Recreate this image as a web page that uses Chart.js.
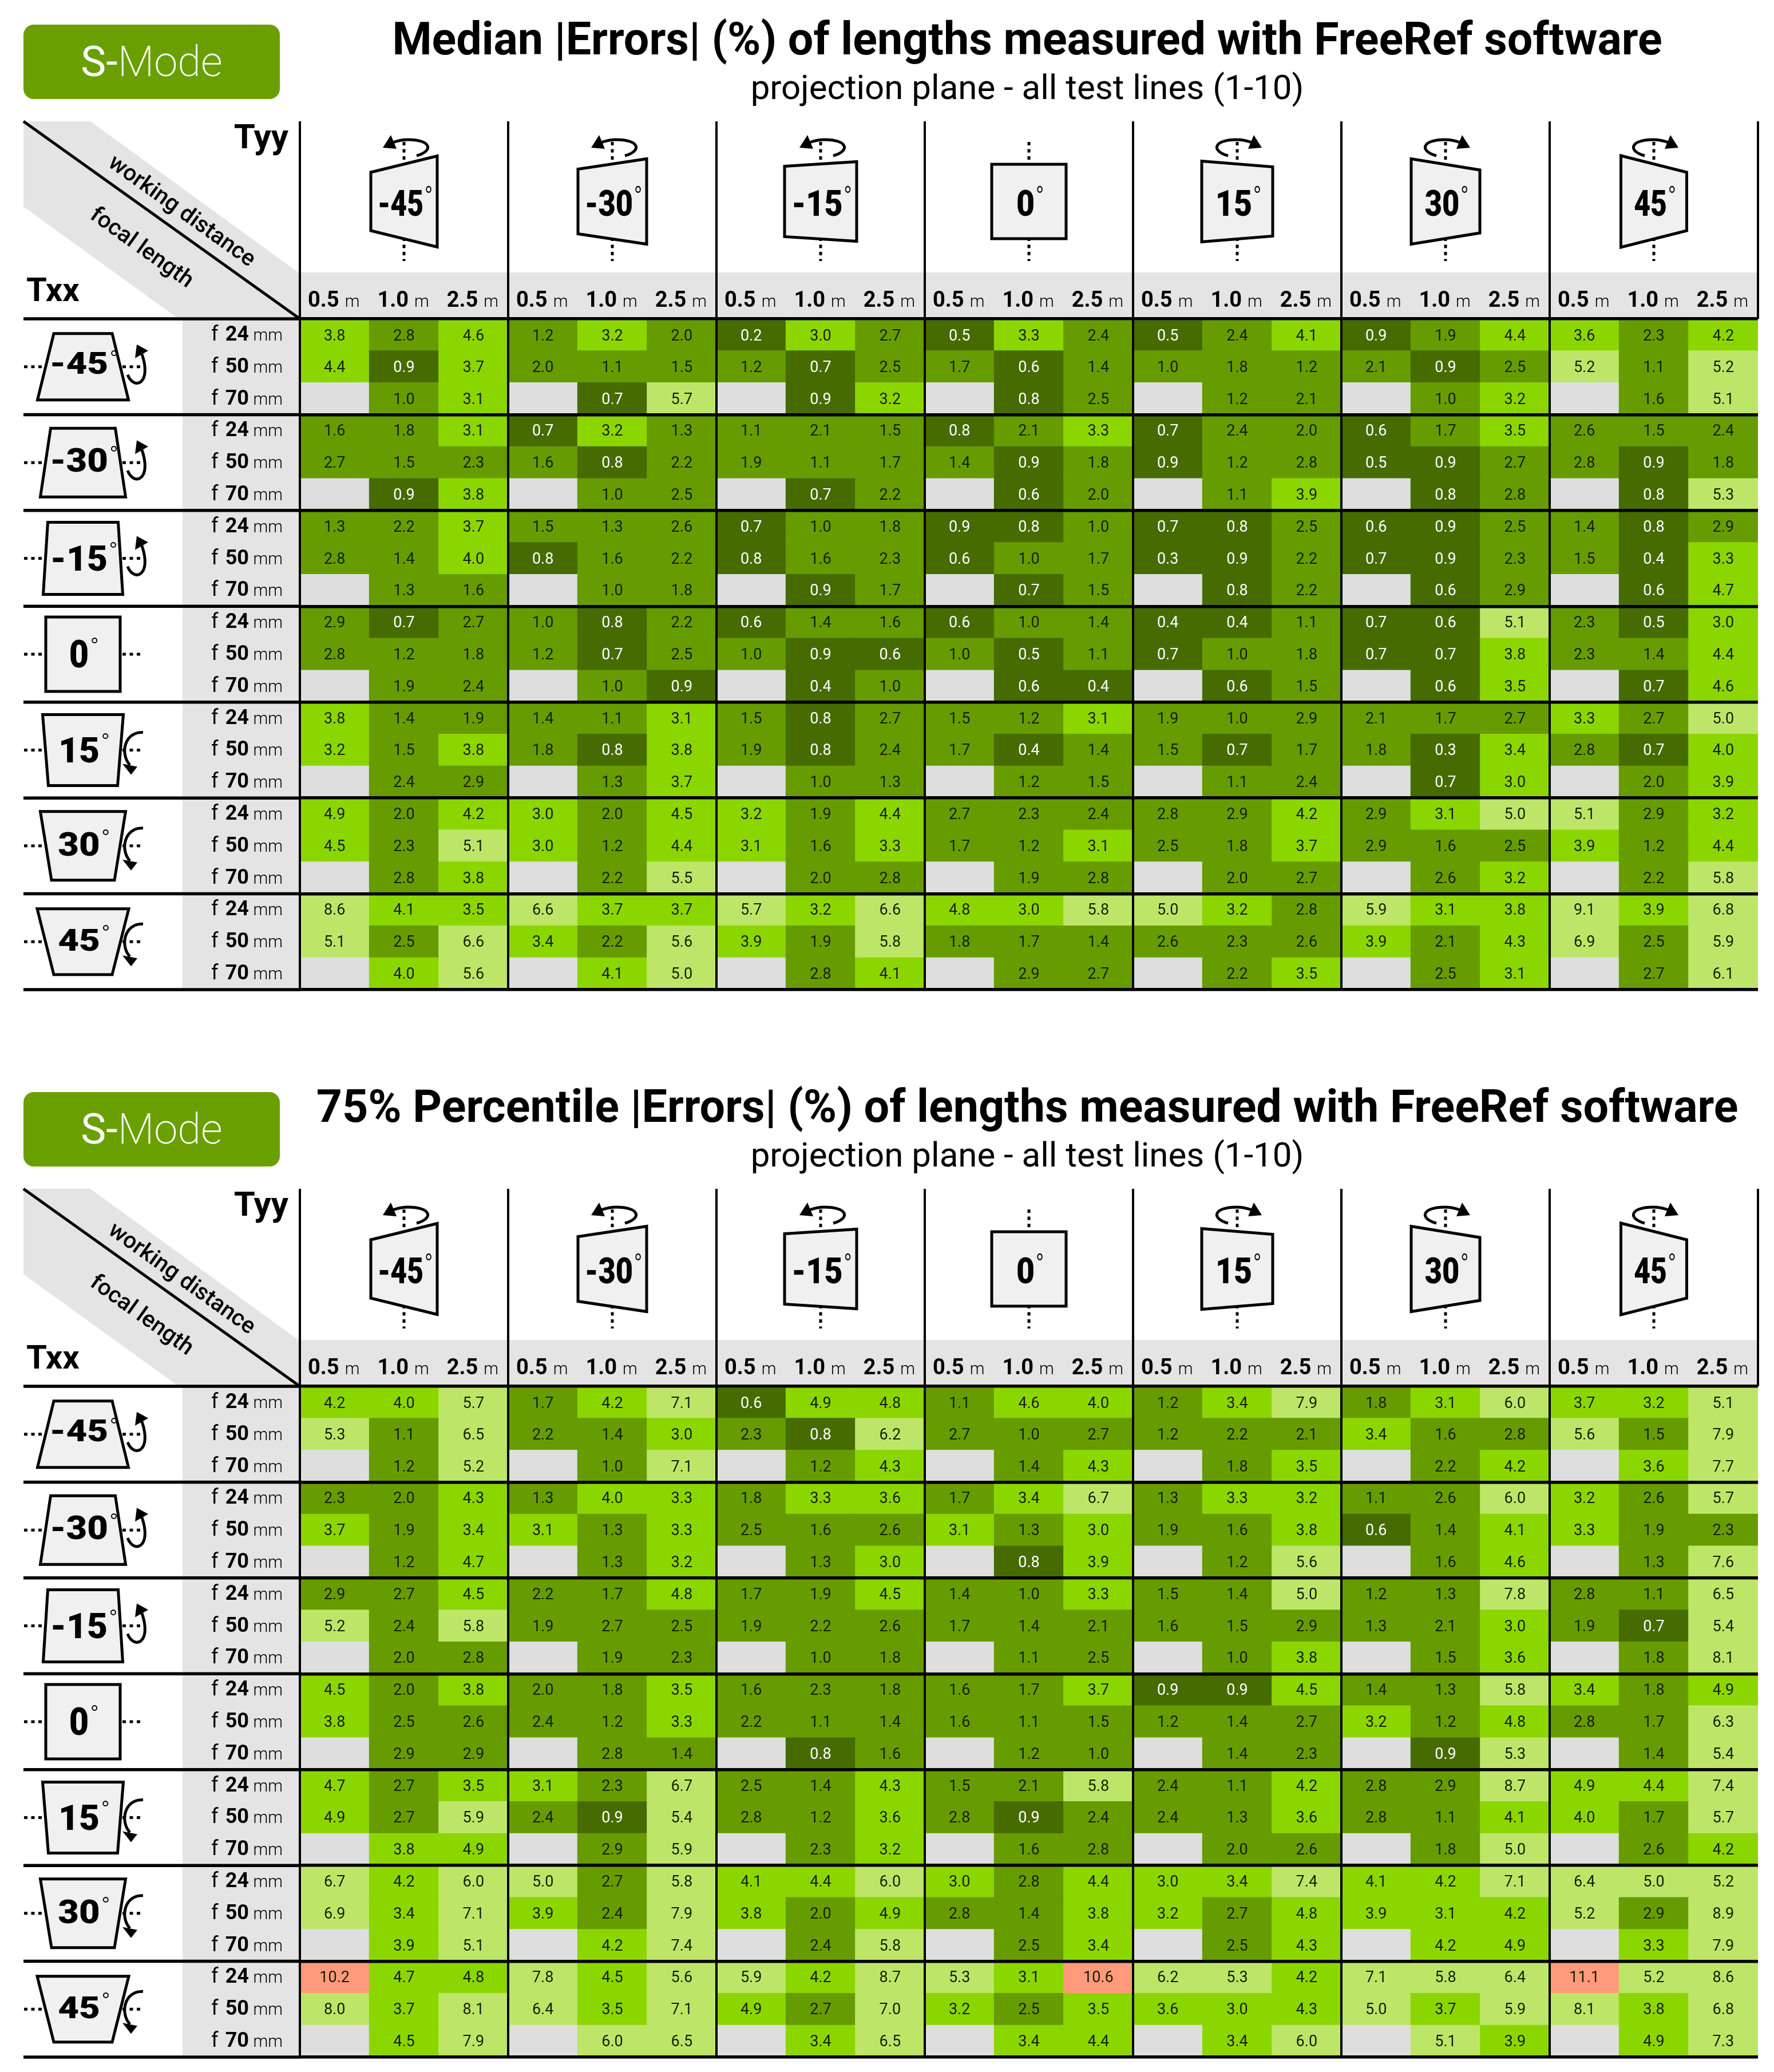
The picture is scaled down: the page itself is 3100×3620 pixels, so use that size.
<!DOCTYPE html>
<html>
<head>
<meta charset="utf-8">
<title>FreeRef S-Mode errors</title>
<script src="https://cdn.jsdelivr.net/npm/chart.js@4/dist/chart.umd.min.js"></script>
<style>
    html, body { margin: 0; padding: 0; background: #fff; overflow: hidden; }
    body { position: relative; width: 3100px; height: 3620px; font-family: Roboto, sans-serif; color: #000; }
    canvas { position: absolute; left: 0; }
    #chart1 { top: 0; }
    #chart2 { top: 1865px; }
    .badge { position: absolute; left: 41px; width: 448px; height: 130px; background: #69a000; border-radius: 18px;
             color: #fff; font-size: 74px; line-height: 130px; text-align: center; font-weight: 200; }
    .badge b { font-weight: 400; }
    .title { position: absolute; left: 500px; width: 2590px; text-align: center; font-weight: 700;
             font-size: 79px; line-height: 100px; white-space: nowrap; }
    .subtitle { position: absolute; left: 500px; width: 2590px; text-align: center; font-weight: 400;
                font-size: 60px; line-height: 70px; white-space: nowrap; }
</style>
</head>
<body>
<div class="badge" style="top:43px"><b>S-</b>Mode</div>
<div class="title" style="top:18px">Median |Errors| (%) of lengths measured with FreeRef software</div>
<div class="subtitle" style="top:118px">projection plane - all test lines (1-10)</div>
<canvas id="chart1" width="3100" height="1800"></canvas>

<div class="badge" style="top:1908px"><b>S-</b>Mode</div>
<div class="title" style="top:1883px">75% Percentile |Errors| (%) of lengths measured with FreeRef software</div>
<div class="subtitle" style="top:1983px">projection plane - all test lines (1-10)</div>
<canvas id="chart2" width="3100" height="1755"></canvas>

<script>
const tyyAngles = [-45, -30, -15, 0, 15, 30, 45];
const txxAngles = [-45, -30, -15, 0, 15, 30, 45];
const distances = ['0.5', '1.0', '2.5'];
const focalLengths = ['24', '50', '70'];

// one line per Txx angle and focal length, null = not measured
const medianErrors = [
    [3.8, 2.8, 4.6, 1.2, 3.2, 2.0, 0.2, 3.0, 2.7, 0.5, 3.3, 2.4, 0.5, 2.4, 4.1, 0.9, 1.9, 4.4, 3.6, 2.3, 4.2],
    [4.4, 0.9, 3.7, 2.0, 1.1, 1.5, 1.2, 0.7, 2.5, 1.7, 0.6, 1.4, 1.0, 1.8, 1.2, 2.1, 0.9, 2.5, 5.2, 1.1, 5.2],
    [null, 1.0, 3.1, null, 0.7, 5.7, null, 0.9, 3.2, null, 0.8, 2.5, null, 1.2, 2.1, null, 1.0, 3.2, null, 1.6, 5.1],
    [1.6, 1.8, 3.1, 0.7, 3.2, 1.3, 1.1, 2.1, 1.5, 0.8, 2.1, 3.3, 0.7, 2.4, 2.0, 0.6, 1.7, 3.5, 2.6, 1.5, 2.4],
    [2.7, 1.5, 2.3, 1.6, 0.8, 2.2, 1.9, 1.1, 1.7, 1.4, 0.9, 1.8, 0.9, 1.2, 2.8, 0.5, 0.9, 2.7, 2.8, 0.9, 1.8],
    [null, 0.9, 3.8, null, 1.0, 2.5, null, 0.7, 2.2, null, 0.6, 2.0, null, 1.1, 3.9, null, 0.8, 2.8, null, 0.8, 5.3],
    [1.3, 2.2, 3.7, 1.5, 1.3, 2.6, 0.7, 1.0, 1.8, 0.9, 0.8, 1.0, 0.7, 0.8, 2.5, 0.6, 0.9, 2.5, 1.4, 0.8, 2.9],
    [2.8, 1.4, 4.0, 0.8, 1.6, 2.2, 0.8, 1.6, 2.3, 0.6, 1.0, 1.7, 0.3, 0.9, 2.2, 0.7, 0.9, 2.3, 1.5, 0.4, 3.3],
    [null, 1.3, 1.6, null, 1.0, 1.8, null, 0.9, 1.7, null, 0.7, 1.5, null, 0.8, 2.2, null, 0.6, 2.9, null, 0.6, 4.7],
    [2.9, 0.7, 2.7, 1.0, 0.8, 2.2, 0.6, 1.4, 1.6, 0.6, 1.0, 1.4, 0.4, 0.4, 1.1, 0.7, 0.6, 5.1, 2.3, 0.5, 3.0],
    [2.8, 1.2, 1.8, 1.2, 0.7, 2.5, 1.0, 0.9, 0.6, 1.0, 0.5, 1.1, 0.7, 1.0, 1.8, 0.7, 0.7, 3.8, 2.3, 1.4, 4.4],
    [null, 1.9, 2.4, null, 1.0, 0.9, null, 0.4, 1.0, null, 0.6, 0.4, null, 0.6, 1.5, null, 0.6, 3.5, null, 0.7, 4.6],
    [3.8, 1.4, 1.9, 1.4, 1.1, 3.1, 1.5, 0.8, 2.7, 1.5, 1.2, 3.1, 1.9, 1.0, 2.9, 2.1, 1.7, 2.7, 3.3, 2.7, 5.0],
    [3.2, 1.5, 3.8, 1.8, 0.8, 3.8, 1.9, 0.8, 2.4, 1.7, 0.4, 1.4, 1.5, 0.7, 1.7, 1.8, 0.3, 3.4, 2.8, 0.7, 4.0],
    [null, 2.4, 2.9, null, 1.3, 3.7, null, 1.0, 1.3, null, 1.2, 1.5, null, 1.1, 2.4, null, 0.7, 3.0, null, 2.0, 3.9],
    [4.9, 2.0, 4.2, 3.0, 2.0, 4.5, 3.2, 1.9, 4.4, 2.7, 2.3, 2.4, 2.8, 2.9, 4.2, 2.9, 3.1, 5.0, 5.1, 2.9, 3.2],
    [4.5, 2.3, 5.1, 3.0, 1.2, 4.4, 3.1, 1.6, 3.3, 1.7, 1.2, 3.1, 2.5, 1.8, 3.7, 2.9, 1.6, 2.5, 3.9, 1.2, 4.4],
    [null, 2.8, 3.8, null, 2.2, 5.5, null, 2.0, 2.8, null, 1.9, 2.8, null, 2.0, 2.7, null, 2.6, 3.2, null, 2.2, 5.8],
    [8.6, 4.1, 3.5, 6.6, 3.7, 3.7, 5.7, 3.2, 6.6, 4.8, 3.0, 5.8, 5.0, 3.2, 2.8, 5.9, 3.1, 3.8, 9.1, 3.9, 6.8],
    [5.1, 2.5, 6.6, 3.4, 2.2, 5.6, 3.9, 1.9, 5.8, 1.8, 1.7, 1.4, 2.6, 2.3, 2.6, 3.9, 2.1, 4.3, 6.9, 2.5, 5.9],
    [null, 4.0, 5.6, null, 4.1, 5.0, null, 2.8, 4.1, null, 2.9, 2.7, null, 2.2, 3.5, null, 2.5, 3.1, null, 2.7, 6.1]
];

const percentileErrors = [
    [4.2, 4.0, 5.7, 1.7, 4.2, 7.1, 0.6, 4.9, 4.8, 1.1, 4.6, 4.0, 1.2, 3.4, 7.9, 1.8, 3.1, 6.0, 3.7, 3.2, 5.1],
    [5.3, 1.1, 6.5, 2.2, 1.4, 3.0, 2.3, 0.8, 6.2, 2.7, 1.0, 2.7, 1.2, 2.2, 2.1, 3.4, 1.6, 2.8, 5.6, 1.5, 7.9],
    [null, 1.2, 5.2, null, 1.0, 7.1, null, 1.2, 4.3, null, 1.4, 4.3, null, 1.8, 3.5, null, 2.2, 4.2, null, 3.6, 7.7],
    [2.3, 2.0, 4.3, 1.3, 4.0, 3.3, 1.8, 3.3, 3.6, 1.7, 3.4, 6.7, 1.3, 3.3, 3.2, 1.1, 2.6, 6.0, 3.2, 2.6, 5.7],
    [3.7, 1.9, 3.4, 3.1, 1.3, 3.3, 2.5, 1.6, 2.6, 3.1, 1.3, 3.0, 1.9, 1.6, 3.8, 0.6, 1.4, 4.1, 3.3, 1.9, 2.3],
    [null, 1.2, 4.7, null, 1.3, 3.2, null, 1.3, 3.0, null, 0.8, 3.9, null, 1.2, 5.6, null, 1.6, 4.6, null, 1.3, 7.6],
    [2.9, 2.7, 4.5, 2.2, 1.7, 4.8, 1.7, 1.9, 4.5, 1.4, 1.0, 3.3, 1.5, 1.4, 5.0, 1.2, 1.3, 7.8, 2.8, 1.1, 6.5],
    [5.2, 2.4, 5.8, 1.9, 2.7, 2.5, 1.9, 2.2, 2.6, 1.7, 1.4, 2.1, 1.6, 1.5, 2.9, 1.3, 2.1, 3.0, 1.9, 0.7, 5.4],
    [null, 2.0, 2.8, null, 1.9, 2.3, null, 1.0, 1.8, null, 1.1, 2.5, null, 1.0, 3.8, null, 1.5, 3.6, null, 1.8, 8.1],
    [4.5, 2.0, 3.8, 2.0, 1.8, 3.5, 1.6, 2.3, 1.8, 1.6, 1.7, 3.7, 0.9, 0.9, 4.5, 1.4, 1.3, 5.8, 3.4, 1.8, 4.9],
    [3.8, 2.5, 2.6, 2.4, 1.2, 3.3, 2.2, 1.1, 1.4, 1.6, 1.1, 1.5, 1.2, 1.4, 2.7, 3.2, 1.2, 4.8, 2.8, 1.7, 6.3],
    [null, 2.9, 2.9, null, 2.8, 1.4, null, 0.8, 1.6, null, 1.2, 1.0, null, 1.4, 2.3, null, 0.9, 5.3, null, 1.4, 5.4],
    [4.7, 2.7, 3.5, 3.1, 2.3, 6.7, 2.5, 1.4, 4.3, 1.5, 2.1, 5.8, 2.4, 1.1, 4.2, 2.8, 2.9, 8.7, 4.9, 4.4, 7.4],
    [4.9, 2.7, 5.9, 2.4, 0.9, 5.4, 2.8, 1.2, 3.6, 2.8, 0.9, 2.4, 2.4, 1.3, 3.6, 2.8, 1.1, 4.1, 4.0, 1.7, 5.7],
    [null, 3.8, 4.9, null, 2.9, 5.9, null, 2.3, 3.2, null, 1.6, 2.8, null, 2.0, 2.6, null, 1.8, 5.0, null, 2.6, 4.2],
    [6.7, 4.2, 6.0, 5.0, 2.7, 5.8, 4.1, 4.4, 6.0, 3.0, 2.8, 4.4, 3.0, 3.4, 7.4, 4.1, 4.2, 7.1, 6.4, 5.0, 5.2],
    [6.9, 3.4, 7.1, 3.9, 2.4, 7.9, 3.8, 2.0, 4.9, 2.8, 1.4, 3.8, 3.2, 2.7, 4.8, 3.9, 3.1, 4.2, 5.2, 2.9, 8.9],
    [null, 3.9, 5.1, null, 4.2, 7.4, null, 2.4, 5.8, null, 2.5, 3.4, null, 2.5, 4.3, null, 4.2, 4.9, null, 3.3, 7.9],
    [10.2, 4.7, 4.8, 7.8, 4.5, 5.6, 5.9, 4.2, 8.7, 5.3, 3.1, 10.6, 6.2, 5.3, 4.2, 7.1, 5.8, 6.4, 11.1, 5.2, 8.6],
    [8.0, 3.7, 8.1, 6.4, 3.5, 7.1, 4.9, 2.7, 7.0, 3.2, 2.5, 3.5, 3.6, 3.0, 4.3, 5.0, 3.7, 5.9, 8.1, 3.8, 6.8],
    [null, 4.5, 7.9, null, 6.0, 6.5, null, 3.4, 6.5, null, 3.4, 4.4, null, 3.4, 6.0, null, 5.1, 3.9, null, 4.9, 7.3]
];

const FONT = 'Roboto, sans-serif';
const GREY = '#e4e4e4';
const LEFT = 41, TOP = 212, BAND_TOP = 476, AREA_LEFT = 524, AREA_TOP = 557, AREA_BOTTOM = 1729, AREA_RIGHT = 3072;

// icon outline per tilt, index 0 = -45 ... 6 = 45: [near edge, far edge, depth]
const iconShapes = [[102, 159, 116], [113, 149, 120], [123, 139, 126], [130, 130, 130], [141, 121, 124], [149, 110, 120], [160, 102, 115]];
const tyyTextScale = { 45: 0.79, 30: 0.83, 15: 0.88, 0: 0.88 };
const txxTextSize = { 45: 53, 30: 58, 15: 61, 0: 66 };
const txxTextScale = { 45: 1.2, 30: 1.09, 15: 1.02, 0: 0.9 };
const txxTextShift = { '-45': -7, '-30': -5, '-15': 0, 0: 0, 15: 0, 30: -3, 45: -3 };

function cellColor(v) {
    if (v === null || v === undefined) return '#dedede';
    if (v < 1) return '#466b00';
    if (v < 3) return '#669c00';
    if (v < 5) return '#8cd600';
    if (v < 10) return '#bde669';
    return '#ff9b7a';
}

function stretchedText(ctx, text, x, y, font, sx, align) {
    ctx.save();
    ctx.translate(x, y);
    ctx.scale(sx, 1);
    ctx.font = font;
    ctx.textAlign = align || 'center';
    ctx.textBaseline = 'alphabetic';
    ctx.fillText(text, 0, 0);
    ctx.restore();
}

function polygon(ctx, pts) {
    ctx.beginPath();
    pts.forEach((p, i) => i ? ctx.lineTo(p[0], p[1]) : ctx.moveTo(p[0], p[1]));
    ctx.closePath();
}

function dottedLine(ctx, x0, y0, x1, y1) {
    ctx.save();
    ctx.strokeStyle = '#000';
    ctx.lineWidth = 5;
    ctx.setLineDash([6, 6.5]);
    ctx.beginPath();
    ctx.moveTo(x0, y0);
    ctx.lineTo(x1, y1);
    ctx.stroke();
    ctx.restore();
}

function drawTrapezoid(ctx, pts) {
    polygon(ctx, pts);
    ctx.fillStyle = '#f0f0f0';
    ctx.fill();
    ctx.strokeStyle = '#000';
    ctx.lineWidth = 5;
    ctx.lineJoin = 'miter';
    ctx.stroke();
}

// rotation arrow above a Tyy icon, mirrored for the positive angles
function tyyArrow(ctx, cx, angle) {
    if (angle === 0) return;
    const s = angle < 0 ? 1 : -1;
    const off = angle < 0 ? 0 : 6;
    const X = d => cx + off + s * d;
    ctx.strokeStyle = '#000';
    ctx.lineWidth = 5;
    ctx.beginPath();
    ctx.moveTo(X(22), 272);
    ctx.bezierCurveTo(X(52), 264, X(48), 244, X(7), 244);
    ctx.quadraticCurveTo(X(-6), 244, X(-20), 249);
    ctx.stroke();
    ctx.fillStyle = '#000';
    polygon(ctx, [[X(-37), 258], [X(-23), 236], [X(-13), 260]]);
    ctx.fill();
}

// rotation arrow beside a Txx icon
function txxArrow(ctx, cy, angle) {
    if (angle === 0) return;
    ctx.strokeStyle = '#000';
    ctx.lineWidth = 5;
    ctx.fillStyle = '#000';
    ctx.beginPath();
    if (angle < 0) {
        ctx.moveTo(223, cy + 14);
        ctx.bezierCurveTo(234, cy + 42, 266, cy + 30, 248, cy - 22);
        ctx.stroke();
        polygon(ctx, [[239, cy - 39], [259, cy - 28], [236, cy - 15]]);
    } else {
        ctx.moveTo(250, cy - 31);
        ctx.bezierCurveTo(216, cy - 32, 210, cy + 8, 227, cy + 26);
        ctx.stroke();
        polygon(ctx, [[214, cy + 24], [240, cy + 29], [229, cy + 43]]);
    }
    ctx.fill();
}

function drawTyyIcon(ctx, cx, angle, i) {
    const shape = iconShapes[i], w = shape[2], cy = 352;
    dottedLine(ctx, cx, 248, cx, 290);
    dottedLine(ctx, cx, 415, cx, 456);
    tyyArrow(ctx, cx, angle);
    drawTrapezoid(ctx, [
        [cx - w / 2, cy - shape[0] / 2], [cx + w / 2, cy - shape[1] / 2],
        [cx + w / 2, cy + shape[1] / 2], [cx - w / 2, cy + shape[0] / 2]
    ]);
    const mag = Math.abs(angle), sx = tyyTextScale[mag], font = '900 63px ' + FONT;
    ctx.fillStyle = '#000';
    stretchedText(ctx, String(angle), cx - 6, 377, font, sx);
    ctx.font = font;
    const right = cx - 6 + ctx.measureText(String(angle)).width * sx / 2;
    stretchedText(ctx, '°', right + 9, 361, '300 50px ' + FONT, 0.8);
}

function drawTxxIcon(ctx, cy, angle, i) {
    const shape = iconShapes[i], cx = 145, h = shape[2];
    dottedLine(ctx, 42, cy, 76, cy);
    dottedLine(ctx, 214, cy, 250, cy);
    txxArrow(ctx, cy, angle);
    drawTrapezoid(ctx, [
        [cx - shape[0] / 2, cy - h / 2], [cx + shape[0] / 2, cy - h / 2],
        [cx + shape[1] / 2, cy + h / 2], [cx - shape[1] / 2, cy + h / 2]
    ]);
    const mag = Math.abs(angle), size = txxTextSize[mag], sx = txxTextScale[mag];
    const font = '900 ' + size + 'px ' + FONT;
    ctx.fillStyle = '#000';
    stretchedText(ctx, String(angle), cx - 7, cy + size * 0.355 + txxTextShift[angle], font, sx);
    ctx.font = font;
    const right = cx - 7 + ctx.measureText(String(angle)).width * sx / 2;
    stretchedText(ctx, '°', right + 10, cy + 1, '300 42px ' + FONT, 1);
}

// grey strips behind the table, drawn before the cells
const backgroundPlugin = {
    id: 'tableBackground',
    beforeDraw(chart) {
        const ctx = chart.ctx, area = chart.chartArea;
        ctx.save();
        ctx.fillStyle = GREY;
        ctx.fillRect(319, area.top, area.left - 319, area.bottom - area.top);
        ctx.fillRect(area.left, BAND_TOP, area.right - area.left, area.top - BAND_TOP);
        polygon(ctx, [[LEFT, TOP], [158, TOP], [area.left, 478], [area.left, area.top], [312, area.top], [LEFT, 361]]);
        ctx.fill();
        ctx.restore();
    }
};

// axis labels, icons and the value in each cell
const labelPlugin = {
    id: 'tableLabels',
    afterDatasetsDraw(chart) {
        const ctx = chart.ctx;
        ctx.save();
        chart.getDatasetMeta(0).data.forEach((el, i) => {
            const v = chart.data.datasets[0].data[i].v;
            if (v === null) return;
            const p = el.getCenterPoint();
            ctx.fillStyle = v < 1 ? '#fff' : '#161f00';
            stretchedText(ctx, v.toFixed(1), p.x, p.y + 9, '27px ' + FONT, 1);
        });
        ctx.restore();
    },
    afterDraw(chart) {
        const ctx = chart.ctx, area = chart.chartArea;
        const xs = chart.scales.x, ys = chart.scales.y;
        const groupW = (area.right - area.left) / tyyAngles.length;
        ctx.save();

        // corner of the table
        ctx.strokeStyle = '#000';
        ctx.lineWidth = 5;
        ctx.beginPath();
        ctx.moveTo(LEFT, TOP);
        ctx.lineTo(area.left, area.top);
        ctx.stroke();
        ctx.fillStyle = '#000';
        stretchedText(ctx, 'Tyy', 504, 259, 'bold 60px ' + FONT, 1, 'right');
        stretchedText(ctx, 'Txx', 46, 526, 'bold 58px ' + FONT, 1, 'left');
        [['working distance', 317, 370], ['focal length', 247, 434]].forEach(t => {
            ctx.save();
            ctx.translate(t[1], t[2]);
            ctx.rotate(35.6 * Math.PI / 180);
            ctx.font = '500 40px ' + FONT;
            ctx.textAlign = 'center';
            ctx.textBaseline = 'middle';
            ctx.fillText(t[0], 0, 0);
            ctx.restore();
        });

        // separators that carry on outside the plot area
        ctx.lineWidth = 4;
        for (let g = 0; g <= tyyAngles.length; g++) {
            const x = area.left + g * groupW;
            ctx.beginPath();
            ctx.moveTo(x, TOP);
            ctx.lineTo(x, area.top);
            ctx.stroke();
        }
        ctx.lineWidth = 5.5;
        for (let r = 0; r <= txxAngles.length; r++) {
            const y = ys.getPixelForValue(r * focalLengths.length);
            ctx.beginPath();
            ctx.moveTo(LEFT, y);
            ctx.lineTo(area.left, y);
            ctx.stroke();
        }

        // column header: icon plus the three working distances
        tyyAngles.forEach((angle, g) => {
            drawTyyIcon(ctx, area.left + (g + 0.5) * groupW, angle, g);
            distances.forEach((d, k) => {
                const x = xs.getPixelForValue(g * distances.length + k);
                ctx.fillStyle = '#000';
                stretchedText(ctx, d, x + 8, 536, 'bold 38px ' + FONT, 1, 'right');
                stretchedText(ctx, 'm', x + 18, 536, '300 29px ' + FONT, 1, 'left');
            });
        });

        // row header: icon plus the three focal lengths
        txxAngles.forEach((angle, r) => {
            drawTxxIcon(ctx, ys.getPixelForValue(r * 3 + 1.5), angle, r);
            focalLengths.forEach((f, k) => {
                const y = ys.getPixelForValue(r * 3 + k + 0.5) + 10;
                ctx.fillStyle = '#000';
                stretchedText(ctx, 'f', 369, y, '36px ' + FONT, 1, 'left');
                stretchedText(ctx, f, 435, y, 'bold 36px ' + FONT, 1, 'right');
                stretchedText(ctx, 'mm', 494, y, '300 29px ' + FONT, 1, 'right');
            });
        });
        ctx.restore();
    }
};

function makeTable(canvasId, values) {
    const canvas = document.getElementById(canvasId);
    const columns = tyyAngles.flatMap(a => distances.map(d => a + '° ' + d + ' m'));
    const cells = values.flatMap((row, r) => row.map((v, c) => ({ x: columns[c], y: [r, r + 1], v: v })));

    return new Chart(canvas, {
        type: 'bar',
        data: {
            labels: columns,
            datasets: [{
                data: cells,
                backgroundColor: ctx => cellColor(ctx.raw ? ctx.raw.v : null),
                borderWidth: 0,
                inflateAmount: 0.5,
                categoryPercentage: 1,
                barPercentage: 1
            }]
        },
        options: {
            responsive: false,
            animation: false,
            devicePixelRatio: 1,
            layout: {
                padding: {
                    left: AREA_LEFT,
                    right: canvas.width - AREA_RIGHT,
                    top: AREA_TOP,
                    bottom: canvas.height - AREA_BOTTOM
                }
            },
            plugins: {
                legend: { display: false },
                tooltip: { enabled: false }
            },
            scales: {
                x: {
                    type: 'category',
                    border: { display: false },
                    ticks: { display: false, autoSkip: false },
                    grid: {
                        z: 1,
                        offset: true,
                        drawTicks: false,
                        color: ctx => ctx.index % 3 === 0 ? '#000' : 'rgba(0,0,0,0)',
                        lineWidth: ctx => ctx.index % 3 === 0 ? 4 : 0
                    }
                },
                y: {
                    type: 'linear',
                    reverse: true,
                    min: 0,
                    max: values.length,
                    border: { display: false },
                    ticks: { display: false, stepSize: 1 },
                    grid: {
                        z: 1,
                        drawTicks: false,
                        color: ctx => ctx.tick.value % 3 === 0 ? '#000' : 'rgba(0,0,0,0)',
                        lineWidth: ctx => ctx.tick.value % 3 === 0 ? 5.5 : 0
                    }
                }
            }
        },
        plugins: [backgroundPlugin, labelPlugin]
    });
}

makeTable('chart1', medianErrors);
makeTable('chart2', percentileErrors);
</script>
</body>
</html>
